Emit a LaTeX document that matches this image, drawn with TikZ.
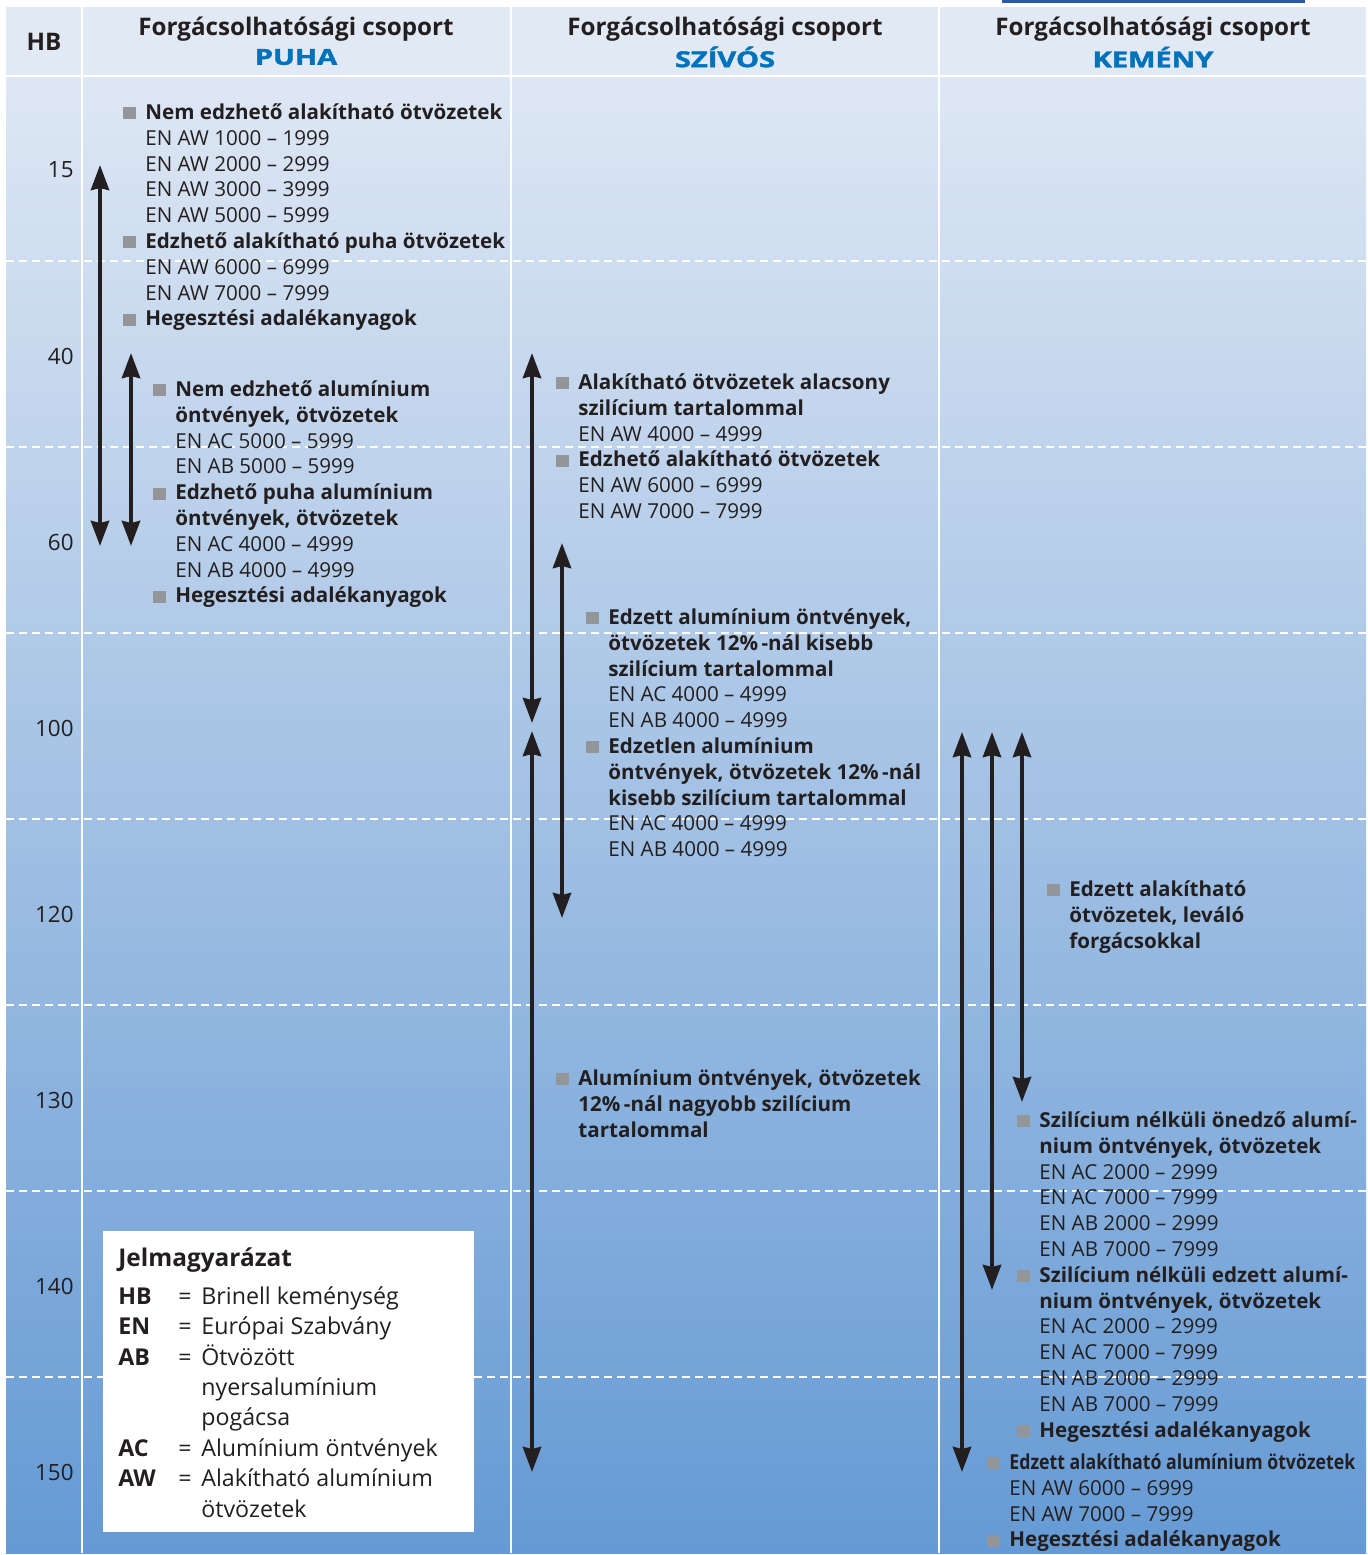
\documentclass[tikz,border=0pt]{standalone}
\usepackage{graphicx}
\usepackage{fontspec}
\setmainfont{Open Sans}
\newfontfamily\tagfont{Open Sans}[BoldFeatures={FakeBold=1.6}]
\usepackage{tikz}
\usetikzlibrary{positioning,arrows.meta}
\definecolor{hdrbg}{RGB}{225,233,245}
\definecolor{bgtop}{RGB}{222,231,244}
\definecolor{bgbot}{RGB}{101,154,212}
\definecolor{tagblue}{RGB}{0,114,188}
\definecolor{sqgray}{RGB}{147,149,152}
\definecolor{ink}{RGB}{35,31,32}
\definecolor{barblue}{RGB}{40,90,165}
\newcommand{\bodyfont}{\fontsize{10.3}{12.9}\selectfont}
\newcommand{\sqbul}{\makebox[11pt][l]{\textcolor{sqgray}{\rule{6.5pt}{6pt}}}\rule{0pt}{10pt}}
\newcommand{\itm}[1]{\sqbul\textbf{#1}}
\newcommand{\nxt}[1]{\hspace*{11pt}#1}
\newcommand{\grp}[1]{\scalebox{1.32}[1]{#1}}
\tikzset{
  hbrange/.style={arrows={Stealth[length=12.5pt,width=9pt,inset=1pt]-Stealth[length=12.5pt,width=9pt,inset=1pt]}, line width=2.1pt, draw=ink},
  gridline/.style={white, line width=0.6pt, dash pattern=on 4pt off 2.5pt},
  colline/.style={white, line width=0.8pt},
  hbnum/.style={anchor=east, inner sep=0, font=\fontsize{11.2}{13}\selectfont, text=ink},
  colhead/.style={inner sep=0, font=\fontsize{12.1}{14}\bfseries\selectfont, text=ink},
  grouptag/.style={inner sep=0, font=\tagfont\fontsize{11}{13}\bfseries\selectfont, text=tagblue},
  blk/.style={anchor=north west, inner sep=0, align=left, font=\bodyfont, text=ink},
  legendbox/.style={fill=white, anchor=north west, inner sep=0, minimum width=185.5pt, minimum height=150.5pt}
}
\begin{document}
\begin{tikzpicture}[x=0.5pt, y=-0.5pt]
  \useasboundingbox (0,0) rectangle (1368,1555);
  % background, header band and grid
  \fill[white] (0,0) rectangle (1368,1555);
  \fill[barblue] (1002,0) rectangle (1305,3);
  \fill[hdrbg] (6,7) rectangle (1366,75);
  \shade[top color=bgtop, bottom color=bgbot] (6,76) rectangle (1366,1553);
  \draw[white, line width=1pt] (6,75.5) -- (1366,75.5);
  \foreach \y in {261,447,...,1377} \draw[gridline] (6,\y) -- (1366,\y);
  \foreach \x in {82,511,939} \draw[colline] (\x,7) -- (\x,1553);

  % Header row
  \node[colhead] (hbhead) at (44,42) {HB};
  \node[colhead] (hpuha) at (296,29) {Forgácsolhatósági csoport};
  \node[grouptag] (tpuha) at (296,57) {\grp{PUHA}};
  \node[colhead] (hszivos) at (725,29) {Forgácsolhatósági csoport};
  \node[grouptag] (tszivos) at (725,57) {\grp{SZÍVÓS}};
  \node[colhead] (hkemeny) at (1153,29) {Forgácsolhatósági csoport};
  \node[grouptag] (tkemeny) at (1153,57) {\grp{KEMÉNY}};

  % HB scale
  \foreach \v [count=\i from 0] in {15,40,60,100,120,130,140,150}
    \node[hbnum] (hb\v) at (74,{170+186*\i}) {\v};

  % Column PUHA
  \node[blk] (p1) at (123,99) {\itm{Nem edzhető alakítható ötvözetek}\\
    \nxt{EN AW 1000 – 1999}\\ \nxt{EN AW 2000 – 2999}\\
    \nxt{EN AW 3000 – 3999}\\ \nxt{EN AW 5000 – 5999}\\
    \itm{Edzhető alakítható puha ötvözetek}\\
    \nxt{EN AW 6000 – 6999}\\ \nxt{EN AW 7000 – 7999}\\
    \itm{Hegesztési adalékanyagok}};
  \node[blk] (p2) at (153,376) {\itm{Nem edzhető alumínium}\\
    \nxt{\textbf{öntvények, ötvözetek}}\\
    \nxt{EN AC 5000 – 5999}\\ \nxt{EN AB 5000 – 5999}\\
    \itm{Edzhető puha alumínium}\\
    \nxt{\textbf{öntvények, ötvözetek}}\\
    \nxt{EN AC 4000 – 4999}\\ \nxt{EN AB 4000 – 4999}\\
    \itm{Hegesztési adalékanyagok}};

  % Column SZIVOS
  \node[blk] (s1) at (556,369) {\itm{Alakítható ötvözetek alacsony}\\
    \nxt{\textbf{szilícium tartalommal}}\\
    \nxt{EN AW 4000 – 4999}\\
    \itm{Edzhető alakítható ötvözetek}\\
    \nxt{EN AW 6000 – 6999}\\ \nxt{EN AW 7000 – 7999}};
  \node[blk] (s2) at (586,604) {\itm{Edzett alumínium öntvények,}\\
    \nxt{\textbf{ötvözetek 12\%\,-nál kisebb}}\\
    \nxt{\textbf{szilícium tartalommal}}\\
    \nxt{EN AC 4000 – 4999}\\ \nxt{EN AB 4000 – 4999}\\
    \itm{Edzetlen alumínium}\\
    \nxt{\textbf{öntvények, ötvözetek 12\%\,-nál}}\\
    \nxt{\textbf{kisebb szilícium tartalommal}}\\
    \nxt{EN AC 4000 – 4999}\\ \nxt{EN AB 4000 – 4999}};
  \node[blk] (s3) at (556,1065) {\itm{Alumínium öntvények, ötvözetek}\\
    \nxt{\textbf{12\%\,-nál nagyobb szilícium}}\\
    \nxt{\textbf{tartalommal}}};

  % Column KEMENY
  \node[blk] (k1) at (1047,876) {\itm{Edzett alakítható}\\
    \nxt{\textbf{ötvözetek, leváló}}\\
    \nxt{\textbf{forgácsokkal}}};
  \node[blk] (k2) at (1017,1107) {\itm{Szilícium nélküli önedző alumí-}\\
    \nxt{\textbf{nium öntvények, ötvözetek}}\\
    \nxt{EN AC 2000 – 2999}\\ \nxt{EN AC 7000 – 7999}\\
    \nxt{EN AB 2000 – 2999}\\ \nxt{EN AB 7000 – 7999}\\
    \itm{Szilícium nélküli edzett alumí-}\\
    \nxt{\textbf{nium öntvények, ötvözetek}}\\
    \nxt{EN AC 2000 – 2999}\\ \nxt{EN AC 7000 – 7999}\\
    \nxt{EN AB 2000 – 2999}\\ \nxt{EN AB 7000 – 7999}\\
    \itm{Hegesztési adalékanyagok}};
  \node[blk] (k3) at (987,1449) {\itm{\scalebox{0.86}[1]{Edzett alakítható alumínium ötvözetek}}\\
    \nxt{EN AW 6000 – 6999}\\ \nxt{EN AW 7000 – 7999}\\
    \itm{Hegesztési adalékanyagok}};

  % Hardness ranges
  \foreach \n/\x/\ya/\yb in {pa/100/165/546, pb/131/353/546,
      sa/532/353/723, sb/562/543/918, sc/532/731/1472,
      ka/962/732/1472, kb/992/732/1290, kc/1022/732/1102} {
    \coordinate (\n top) at (\x,\ya);
    \coordinate (\n bot) at (\x,\yb);
    \draw[hbrange] (\n top) -- (\n bot);
  }

  % Legend
  \node[legendbox] (leg) at (103,1231) {};
  \node[inner sep=0, text=ink, font=\fontsize{11.6}{15.2}\selectfont,
    below right=6.85pt and 7.5pt of leg.north west] (legtxt) {%
    \begin{tabular}{@{}p{30pt}@{}p{11.5pt}@{}l@{}}
      \multicolumn{3}{@{}l@{}}{\fontsize{12.2}{15.2}\bfseries Jelmagyarázat}\\[3.8pt]
      \textbf{HB} & = & Brinell keménység\\
      \textbf{EN} & = & Európai Szabvány\\
      \textbf{AB} & = & Ötvözött\\
                  &   & nyersalumínium\\
                  &   & pogácsa\\
      \textbf{AC} & = & Alumínium öntvények\\
      \textbf{AW} & = & Alakítható alumínium\\
                  &   & ötvözetek
    \end{tabular}};
\end{tikzpicture}
\end{document}
